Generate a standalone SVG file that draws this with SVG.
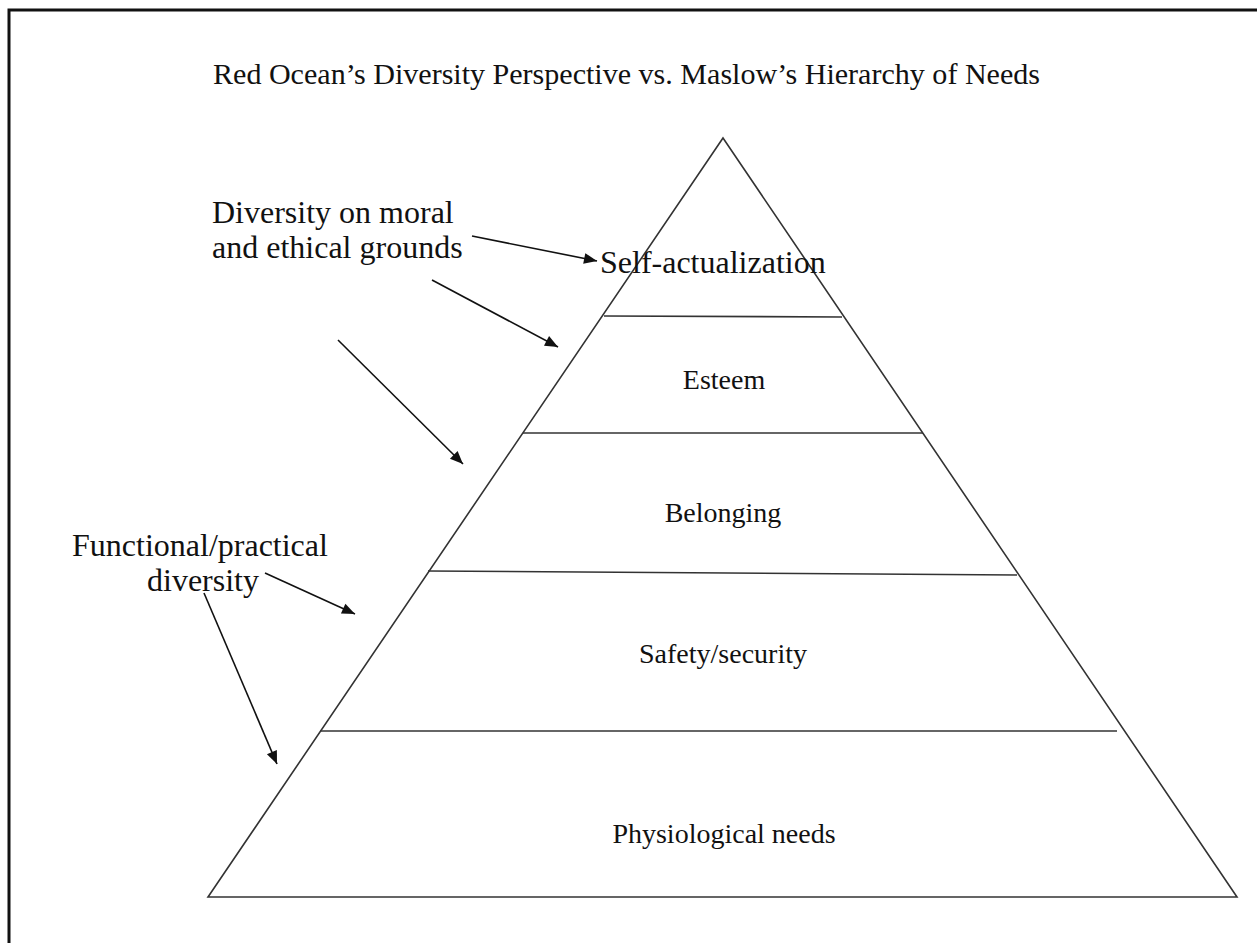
<svg xmlns="http://www.w3.org/2000/svg" width="1257" height="943" viewBox="0 0 1257 943">
<style>
text{font-family:"Liberation Serif","Times New Roman",serif;font-size:28px;fill:#111}
.c{text-anchor:middle}
.big{font-size:32px}
.ln{stroke:#333;stroke-width:1.6;fill:none}
.ar{stroke:#111;stroke-width:1.6;fill:none;marker-end:url(#ah)}
</style>
<defs>
<marker id="ah" viewBox="0 0 12 10" refX="12" refY="5" markerWidth="13" markerHeight="11" markerUnits="userSpaceOnUse" orient="auto" overflow="visible">
<path d="M0,0 L12,5 L0,10 z" fill="#111"/>
</marker>
</defs>
<rect width="1257" height="943" fill="#fff"/>
<path d="M9,943 V10 H1257" stroke="#111" stroke-width="3" fill="none"/>
<g id="title"><text x="213" y="84" style="font-size:30px" textLength="827" lengthAdjust="spacingAndGlyphs">Red Ocean’s Diversity Perspective vs. Maslow’s Hierarchy of Needs</text></g>
<g id="pyramid">
<path class="ln" d="M723,138 L1237,897 L208,897 Z"/>
<path class="ln" d="M604,316 L842,317"/>
<path class="ln" d="M523,433 L923,433"/>
<path class="ln" d="M428,571 L1017,575"/>
<path class="ln" d="M320,731 L1117,731"/>
</g>
<g id="self-actualization"><text class="big" x="600" y="273">Self-actualization</text></g>
<g id="esteem"><text class="c" x="724" y="389">Esteem</text></g>
<g id="belonging"><text class="c" x="723" y="522">Belonging</text></g>
<g id="safety"><text class="c" x="723" y="663">Safety/security</text></g>
<g id="physiological"><text class="c" x="724" y="843">Physiological needs</text></g>
<g id="moral"><text class="big" x="212" y="223">Diversity on moral</text><text class="big" x="212" y="258">and ethical grounds</text></g>
<g id="functional"><text class="big" x="72" y="556">Functional/practical</text><text class="big c" x="203" y="591">diversity</text></g>
<g id="connectors">
<path class="ar" d="M472,236 L597,261"/>
<path class="ar" d="M432,280 L558,347"/>
<path class="ar" d="M338,340 L463,464"/>
<path class="ar" d="M265,573 L355,614"/>
<path class="ar" d="M204,593 L277,764"/>
</g>
</svg>
